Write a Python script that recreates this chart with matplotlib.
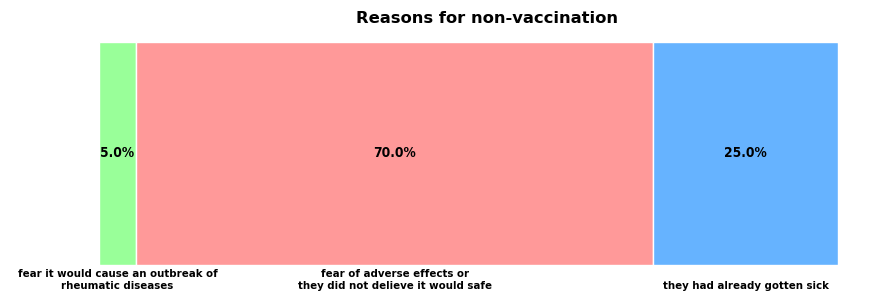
import matplotlib.pyplot as plt

# data
reasons = ["fear it would cause an outbreak of\nrheumatic diseases",
           "fear of adverse effects or\nthey did not delieve it would safe",
           "they had already gotten sick"]
shares = [5.0, 70.0, 25.0]
colors = ["#99ff99", "#ff9999", "#66b3ff"]

fig = plt.figure(figsize=(8.87, 3.03), dpi=100)
ax = fig.add_axes([0.1116, 0.1254, 0.8332, 0.736])

left = 0
for reason, share, c in zip(reasons, shares, colors):
    ax.barh(0, share, left=left, height=1, color=c, edgecolor="white", linewidth=1)
    mid = left + share / 2
    ax.text(mid, 0, f"{share:.1f}%", ha="center", va="center",
            fontsize=9.8, fontweight="bold", fontstretch="condensed")
    # labels under the bar
    if "\n" in reason:
        ax.text(mid, -0.52, reason, ha="center", va="top",
                fontsize=8.2, fontweight="bold", fontstretch="condensed")
    else:
        ax.text(mid, -0.57, reason, ha="center", va="top",
                fontsize=8.2, fontweight="bold", fontstretch="condensed")
    left += share

ax.set_xlim(0, 100)
ax.set_ylim(-0.5, 0.5)
ax.axis("off")
fig.text(0.549, 0.94, "Reasons for non-vaccination", ha="center", va="center",
         fontsize=11.8, fontweight="bold")

fig.savefig("out.png", dpi=100)
